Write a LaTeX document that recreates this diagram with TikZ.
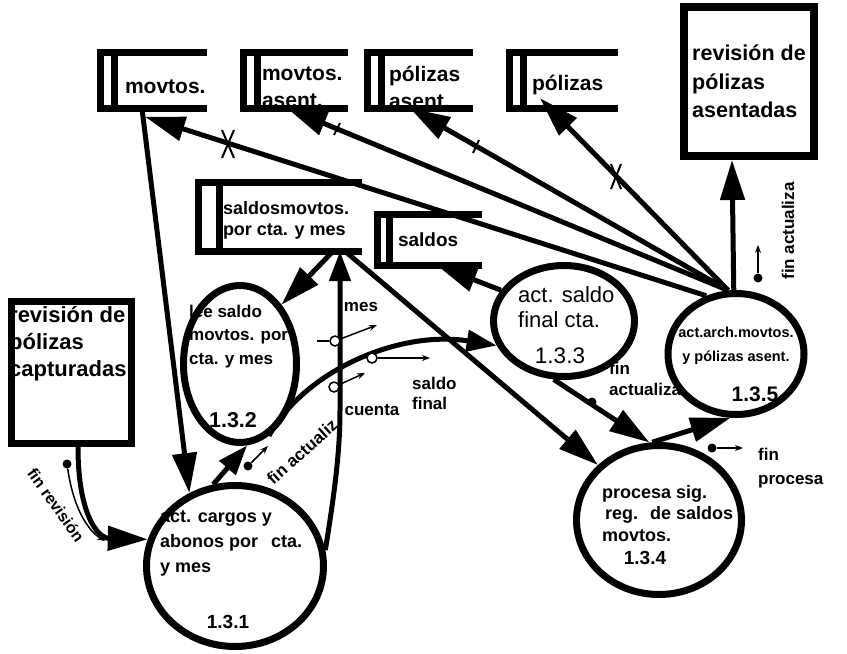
\documentclass[tikz,border=0pt]{standalone}
\usepackage{fontspec}
\setmainfont{Liberation Sans}
\usetikzlibrary{arrows.meta,shapes.geometric}
\newcommand{\fsz}[2]{\fontsize{#1}{#2}\selectfont}
\newcommand{\storeframe}[2]{%
  \draw[storeln] (#1.north east) -- (#1.north west) -- (#1.south west) -- (#1.south east);
  \draw[storeln] ([xshift=#2]#1.north west) -- ([xshift=#2]#1.south west);}
\begin{document}
\begin{tikzpicture}[x=1pt,y=-1pt,
  store/.style={rectangle, inner sep=0pt},
  storeln/.style={line width=7pt},
  stxt/.style={anchor=west, inner sep=0pt, align=left, font=\fsz{21}{27}\bfseries},
  proc/.style={ellipse, draw, line width=7pt, fill=white, inner sep=0pt},
  ptxt/.style={anchor=west, inner sep=0pt, align=left},
  num/.style={inner sep=0pt},
  flow/.style={line width=5pt, -{Triangle[length=40pt,width=24pt]}},
  sflow/.style={line width=5pt, -{Triangle[length=30pt,width=21pt]}},
  cplln/.style={line width=1.5pt},
  cplarr/.style={line width=1.5pt, -{Stealth[length=8pt,width=6pt]}},
  dotn/.style={circle, fill=black, inner sep=0pt, minimum size=9pt},
  ringn/.style={circle, draw, line width=1.5pt, fill=white, inner sep=0pt, minimum size=10pt},
  lbl/.style={inner sep=0pt, align=left, font=\fsz{17}{21}\bfseries},
  tickln/.style={line width=2pt}]

\fill[white] (0,0) rectangle (847,654);
\useasboundingbox (0,0) rectangle (847,654);

% ---------- data stores ----------
\node[store, minimum width=106.5pt, minimum height=55.5pt,
  label={[stxt,xshift=24.5pt,yshift=-6pt]west:movtos.}] (s1) at (153.75,80.75) {};
\storeframe{s1}{14pt}
\node[store, minimum width=104.5pt, minimum height=55pt,
  label={[stxt,xshift=18.5pt,yshift=-7pt]west:movtos.\\asent.}] (s2) at (295.75,80.5) {};
\storeframe{s2}{14pt}
\node[store, minimum width=105.5pt, minimum height=55pt,
  label={[stxt,xshift=21.5pt,yshift=-7pt]west:pólizas\\asent.}] (s3) at (420.25,80.5) {};
\storeframe{s3}{14pt}
\node[store, minimum width=108.5pt, minimum height=55pt,
  label={[stxt,xshift=22.5pt,yshift=-4.5pt]west:pólizas}] (s4) at (563.75,80.5) {};
\storeframe{s4}{14pt}
\node[store, minimum width=163.5pt, minimum height=68pt,
  label={[stxt,font=\fsz{18}{21}\bfseries,xshift=24.5pt,yshift=-3pt]west:saldosmovtos.\\por cta. y mes}] (s5) at (280.25,217) {};
\storeframe{s5}{21pt}
\node[store, minimum width=104.5pt, minimum height=50.5pt,
  label={[stxt,font=\fsz{19}{23}\bfseries,xshift=20.5pt]west:saldos}] (s6) at (429.75,239.75) {};
\storeframe{s6}{12.5pt}

% ---------- external entities ----------
\node[draw, line width=8pt, minimum width=130pt, minimum height=149pt, inner sep=0pt,
  align=left, font=\fsz{21.5}{28.5}\bfseries] (rb) at (749,81.5) {revisión de\\pólizas\\asentadas};
\node[draw, line width=7pt, minimum width=120pt, minimum height=142pt, inner sep=0pt] (lb) at (71.5,372.5) {};
\node[ptxt, font=\fsz{22}{27}\bfseries] (lbt) at (9,344) {revisión de\\pólizas\\capturadas};

% labels partly hidden by bubbles / lines
\node[lbl, anchor=north west] (fa2) at (609,362) {fin\\actualiza};
\node[lbl, rotate=42] (fa1) at (302,452) {fin actualiz};

% ---------- processes ----------
\node[proc, minimum width=177pt, minimum height=161pt] (p1) at (235,566) {};
\node[proc, minimum width=113pt, minimum height=157pt] (p2) at (240,364) {};
\node[proc, minimum width=141pt, minimum height=111pt] (p3) at (564,321) {};
\node[proc, minimum width=165pt, minimum height=149pt] (p4) at (659,520) {};
\node[proc, minimum width=136pt, minimum height=121pt] (p5) at (736,354) {};

\node[ptxt, font=\fsz{18}{25}\bfseries] (t1) at (160,543) {act. cargos y\\abonos por\hspace{13pt}cta.\\y mes};
\node[num, font=\fsz{19}{23}\bfseries] (n1) at (228,622) {1.3.1};
\node[ptxt, font=\fsz{17}{23.5}\bfseries] (t2) at (189,336.5) {lee saldo\\movtos. por\\cta. y mes};
\node[num, font=\fsz{21.5}{25}\bfseries] (n2) at (233,420) {1.3.2};
\node[ptxt, font=\fsz{22}{25}] (t3) at (518,307.5) {act. saldo\\final cta.};
\node[num, font=\fsz{22.5}{26}] (n3) at (560,356) {1.3.3};
\node[ptxt, font=\fsz{18}{21.5}\bfseries] (t4) at (602,513.5) {procesa sig.\\\hspace*{3pt}reg.\hspace{12pt}de saldos\\movtos.};
\node[num, font=\fsz{19}{23}\bfseries] (n4) at (645,558) {1.3.4};
\node[inner sep=0pt, align=center, font=\fsz{14.5}{24}\bfseries] (t5) at (736,346) {act.arch.movtos.\\y pólizas asent.};
\node[num, font=\fsz{21}{25}\bfseries] (n5) at (755,394) {1.3.5};

% ---------- data flows ----------
\draw[flow] ([xshift=-11.75pt]s1.south) -- (p1.122);
\draw[sflow] (p1.105) -- (p2.-85);
\draw[sflow] (p1.10) .. controls (335,490) and (340,450) .. (340,410) -- ([xshift=59.75pt]s5.south);
\draw[flow] ([xshift=52.75pt]s5.south) -- (p2.55);
\draw[flow] ([xshift=64.75pt]s5.south) -- (p4.138);
\draw[flow] (p3.154) -- ([xshift=7pt]s6.south);
\draw[sflow] (p2.-68) .. controls (305,370) and (400,330) .. (p3.200);
\draw[flow] (p3.-100) -- (p4.97);
\draw[flow] (p4.95) -- (p5.-95);
\draw[flow] (p5.92) -- ([xshift=-17pt]rb.south);
\draw[flow] (p5.117) -- ([xshift=-8.75pt,yshift=-8pt]s1.south);
\draw[flow] (p5.97) -- ([xshift=-8.75pt]s2.south);
\draw[flow] (p5.97) -- ([xshift=-10.25pt]s3.south);
\draw[flow] (p5.97) -- ([xshift=-23.75pt,yshift=10pt]s4.south);
\draw[flow] ([xshift=6.5pt]lb.south) .. controls (78,515) and (98,538) .. (p1.163);

% marks on the store update flows
\draw[tickln] (222,130) -- (234,158);
\draw[tickln] (234,130) -- (222,158);
\draw[tickln] (334,135) -- (340,123);
\draw[tickln] (473,153) -- (479,140);
\draw[tickln] (611,164) -- (621,189);
\draw[tickln] (621,164) -- (611,189);

% ---------- control flags ----------
\node[dotn] (f1) at (248,466) {};
\coordinate (f1e) at (268,446);
\draw[cplarr] (f1) -- (f1e);

\node[dotn] (f2) at (758,278) {};
\coordinate (f2e) at (758,245);
\draw[cplarr] (f2) -- (f2e);
\node[lbl, rotate=90] (fa3) at (788,231) {fin actualiza};

\node[dotn] (f3) at (712,448) {};
\coordinate (f3e) at (743,448);
\draw[cplarr] (f3) -- (f3e);
\node[lbl, anchor=west, font=\fsz{17}{24}\bfseries] (fp) at (758,468) {fin\\procesa};

\node[dotn] (f4) at (67,464) {};
\coordinate (f4e) at (105,541);
\draw[cplarr] (f4) .. controls (74,512) and (90,532) .. (f4e);
\node[lbl, font=\fsz{16}{20}\bfseries, rotate=-54.5] (fr) at (56,505) {fin revisión};

\node[dotn] (f5) at (592,402) {};

% ---------- data couples ----------
\coordinate (m0) at (317,341);
\coordinate (m2) at (377,325);
\node[ringn] (m1) at (335,341) {};
\draw[cplln] (m0) -- (m1);
\draw[cplarr] (m1) -- (m2);
\node[lbl] (mes) at (361,307) {mes};

\node[ringn] (c1) at (334,387) {};
\coordinate (c2) at (365,373);
\draw[cplarr] (c1) -- (c2);
\node[lbl] (cta) at (372,410) {cuenta};

\node[ringn] (sf1) at (372,358) {};
\coordinate (sf2) at (430,358);
\draw[cplarr] (sf1) -- (sf2);
\node[lbl, anchor=west, font=\fsz{17}{20}\bfseries] (sfl) at (412,393) {saldo\\final};

\end{tikzpicture}
\end{document}
